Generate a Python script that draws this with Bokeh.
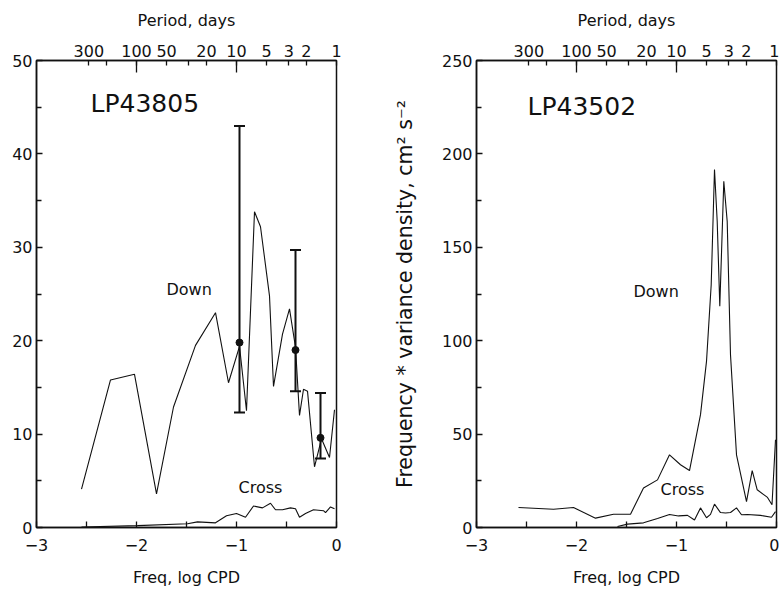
import math
from bokeh.plotting import figure
from bokeh.models import (Range1d, LinearAxis, FixedTicker, Whisker,
                          ColumnDataSource, TeeHead, Label)
from bokeh.layouts import row
from bokeh.embed import file_html
from bokeh.resources import INLINE

FONT = "DejaVu Sans"
INK = "#111111"

# ---------------- data ----------------
freq_ticks = [-3, -2, -1, 0]
freq_minor = [-2.5, -1.5, -0.5]
freq_labels = ["\u22123", "\u22122", "\u22121", "0"]

period_ticks = [300, 200, 100, 50, 30, 20, 10, 5, 3, 2, 1]
period_labels = ["300", "", "100", "50", "", "20", "10", "5", "3", "2", "1"]
period_long = [100, 10]

# LP43805
left_down_x = [-2.55, -2.26, -2.02, -1.80, -1.63, -1.41, -1.21, -1.08, -0.97,
               -0.90, -0.82, -0.76, -0.67, -0.63, -0.54, -0.47, -0.41, -0.37,
               -0.33, -0.29, -0.22, -0.15, -0.07, -0.02]
left_down_y = [4.1, 15.8, 16.4, 3.6, 12.9, 19.5, 23.0, 15.5, 19.4,
               12.5, 33.8, 32.2, 24.8, 15.1, 20.7, 23.4, 19.3, 12.0,
               14.8, 14.6, 6.5, 9.5, 7.5, 12.6]
left_cross_x = [-2.55, -1.99, -1.49, -1.39, -1.21, -1.10, -1.00, -0.91, -0.83,
                -0.74, -0.66, -0.61, -0.54, -0.46, -0.41, -0.37, -0.31, -0.23,
                -0.13, -0.11, -0.06, -0.02]
left_cross_y = [0.05, 0.2, 0.4, 0.6, 0.5, 1.25, 1.5, 1.1, 2.3,
                2.1, 2.6, 1.9, 1.9, 2.1, 2.0, 1.1, 1.5, 1.9,
                1.8, 1.6, 2.2, 2.0]
left_err_x = [-0.97, -0.41, -0.16]
left_err_y = [19.8, 19.0, 9.6]
left_err_lo = [12.3, 14.6, 7.4]
left_err_hi = [43.0, 29.7, 14.4]

# LP43502
right_down_x = [-2.58, -2.23, -2.03, -1.81, -1.63, -1.46, -1.33, -1.19, -1.07,
                -0.96, -0.87, -0.76, -0.70, -0.653, -0.62, -0.593, -0.567,
                -0.527, -0.493, -0.46, -0.40, -0.30, -0.243, -0.193, -0.09,
                -0.045, -0.01]
right_down_y = [10.7, 9.8, 10.7, 5.0, 7.1, 7.1, 21.1, 25.5, 38.9,
                33.6, 30.5, 60.4, 88.9, 130.0, 191.6, 163.9, 118.4,
                185.3, 163.9, 92.5, 38.9, 13.9, 30.4, 20.2, 16.1,
                12.2, 47.0]
right_cross_x = [-1.59, -1.49, -1.33, -1.19, -1.07, -0.98, -0.89, -0.82, -0.76,
                 -0.70, -0.66, -0.62, -0.56, -0.51, -0.46, -0.40, -0.35, -0.29,
                 -0.16, -0.05, -0.01]
right_cross_y = [0.5, 1.8, 2.5, 4.8, 7.0, 6.2, 6.5, 4.0, 10.5,
                 5.2, 7.0, 12.5, 8.0, 7.8, 8.0, 10.5, 6.8, 7.0,
                 6.5, 5.5, 8.5]


def lf(p):
    return round(math.log10(1.0 / p), 5)


def style_axis(ax, size="16px"):
    ax.axis_line_color = INK
    ax.axis_line_width = 1.5
    ax.major_tick_line_color = INK
    ax.minor_tick_line_color = INK
    ax.major_tick_line_width = 1.3
    ax.minor_tick_line_width = 1.3
    ax.major_tick_out = 0
    ax.minor_tick_out = 0
    ax.major_label_text_font = FONT
    ax.major_label_text_font_size = size
    ax.major_label_text_color = INK
    ax.axis_label_text_font = FONT
    ax.axis_label_text_font_size = "16px"
    ax.axis_label_text_font_style = "normal"
    ax.axis_label_text_color = INK


def make_panel(width, left_border, right_border, ymax, ymajor, yminor,
               ylabel=None):
    p = figure(width=width, height=590, x_range=Range1d(-3, 0),
               y_range=Range1d(0, ymax), output_backend="svg",
               toolbar_location=None, min_border_left=left_border,
               min_border_right=right_border, min_border_top=60,
               min_border_bottom=63)
    p.xgrid.visible = False
    p.ygrid.visible = False
    p.outline_line_color = INK
    p.outline_line_width = 1.5
    p.background_fill_color = "white"
    p.border_fill_color = "white"

    # bottom axis
    xa = p.xaxis[0]
    xa.ticker = FixedTicker(ticks=freq_ticks, minor_ticks=freq_minor)
    xa.major_label_overrides = {t: l for t, l in zip(freq_ticks, freq_labels)}
    style_axis(xa)
    xa.major_tick_in = 6
    xa.minor_tick_in = 6
    xa.major_label_standoff = 11
    xa.axis_label = "Freq, log CPD"
    xa.axis_label_standoff = 14

    # left axis
    ya = p.yaxis[0]
    ya.ticker = FixedTicker(ticks=ymajor, minor_ticks=yminor)
    style_axis(ya)
    ya.major_tick_in = 6
    ya.minor_tick_in = 5
    ya.major_label_standoff = 4
    if ylabel:
        ya.axis_label = ylabel
        ya.axis_label_standoff = 22
        ya.axis_label_text_font_size = "20.5px"

    # top axis: period in days
    pt = [lf(v) for v in period_ticks]
    top = LinearAxis(ticker=FixedTicker(ticks=pt,
                                        minor_ticks=[lf(v) for v in period_long]))
    top.major_label_overrides = {t: l for t, l in zip(pt, period_labels)}
    style_axis(top)
    top.major_tick_in = 5
    top.minor_tick_in = 12
    top.major_label_standoff = 4
    top.axis_label = "Period, days"
    top.axis_label_standoff = 12
    p.add_layout(top, "above")
    return p


# ---------------- left panel ----------------
p1 = make_panel(348, 36, 12, 50, [0, 10, 20, 30, 40, 50], [5, 15, 25, 35, 45])
p1.line(left_down_x, left_down_y, line_color=INK, line_width=1.1)
p1.line(left_cross_x, left_cross_y, line_color=INK, line_width=1.1)
src = ColumnDataSource(dict(x=left_err_x, y=left_err_y, lo=left_err_lo,
                            hi=left_err_hi))
p1.add_layout(Whisker(source=src, base="x", lower="lo", upper="hi",
                      dimension="height", line_color=INK, line_width=2,
                      lower_head=TeeHead(size=11, line_width=2, line_color=INK),
                      upper_head=TeeHead(size=11, line_width=2, line_color=INK)))
p1.scatter("x", "y", source=src, size=7, color=INK)
p1.add_layout(Label(x=-2.46, y=45.4, text="LP43805", text_font=FONT,
                    text_font_size="25px", text_baseline="middle",
                    text_color=INK))
p1.add_layout(Label(x=-1.70, y=25.5, text="Down", text_font=FONT,
                    text_font_size="16px", text_baseline="middle",
                    text_color=INK))
p1.add_layout(Label(x=-0.98, y=4.3, text="Cross", text_font=FONT,
                    text_font_size="16px", text_baseline="middle",
                    text_color=INK))

# ---------------- right panel ----------------
p2 = make_panel(431, 128, 3, 250, [0, 50, 100, 150, 200, 250],
                [25, 75, 125, 175, 225],
                ylabel="Frequency * variance density, cm\u00b2 s\u207b\u00b2")
p2.line(right_down_x, right_down_y, line_color=INK, line_width=1.1)
p2.line(right_cross_x, right_cross_y, line_color=INK, line_width=1.1)
p2.add_layout(Label(x=-2.49, y=225.5, text="LP43502", text_font=FONT,
                    text_font_size="25px", text_baseline="middle",
                    text_color=INK))
p2.add_layout(Label(x=-1.43, y=126.4, text="Down", text_font=FONT,
                    text_font_size="16px", text_baseline="middle",
                    text_color=INK))
p2.add_layout(Label(x=-1.16, y=20.1, text="Cross", text_font=FONT,
                    text_font_size="16px", text_baseline="middle",
                    text_color=INK))

layout = row(p1, p2)
open("out.html", "w").write(file_html(layout, INLINE))
